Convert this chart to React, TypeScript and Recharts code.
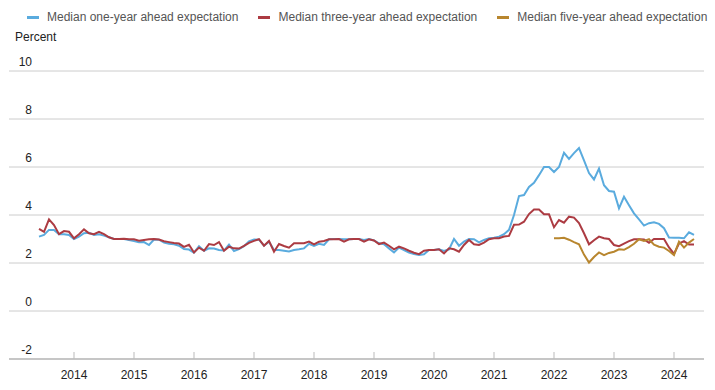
import React from "react";
import { CartesianGrid, Legend, Line, LineChart, XAxis, YAxis } from "recharts";

// monthly survey medians, June 2013 .. May 2024
const START_YEAR = 2013;
const START_MONTH = 6;

const oneYear = [
  3.1, 3.17, 3.38, 3.38, 3.2, 3.2, 3.17,
  3.0, 3.1, 3.24, 3.26, 3.17, 3.2, 3.14, 3.07, 3.0, 3.0, 3.0, 2.96,
  2.92, 2.86, 2.87, 2.75, 2.98, 2.97, 2.85, 2.8, 2.78, 2.72, 2.58, 2.56,
  2.43, 2.7, 2.51, 2.61, 2.6, 2.54, 2.52, 2.77, 2.5, 2.58, 2.7, 2.9,
  2.98, 2.97, 2.72, 2.89, 2.54, 2.54, 2.51, 2.48, 2.54, 2.57, 2.61, 2.8,
  2.71, 2.8, 2.75, 2.99, 3.0, 3.0, 2.99, 2.99, 3.0, 3.0, 2.96, 3.0,
  2.94, 2.82, 2.78, 2.61, 2.44, 2.64, 2.54, 2.43, 2.37, 2.33, 2.36, 2.54,
  2.54, 2.57, 2.5, 2.57, 3.0, 2.72, 2.89, 3.0, 2.99, 2.86, 2.96, 3.03,
  3.05, 3.1, 3.2, 3.38, 4.0, 4.79, 4.83, 5.17, 5.34, 5.66, 6.0, 6.0,
  5.79, 6.0, 6.59, 6.34, 6.58, 6.79, 6.28, 5.75, 5.48, 5.93, 5.24, 5.0,
  4.97, 4.28, 4.76, 4.41, 4.07, 3.82, 3.56, 3.66, 3.7, 3.63, 3.45, 3.06,
  3.05, 3.05, 3.03, 3.28, 3.17,
];

const threeYear = [
  3.42, 3.3, 3.82, 3.58, 3.2, 3.33, 3.3,
  3.03, 3.2, 3.4, 3.24, 3.2, 3.3, 3.2, 3.07, 3.0, 3.0, 3.01, 2.99,
  2.99, 2.93, 2.96, 2.99, 3.0, 2.98, 2.91, 2.87, 2.83, 2.81, 2.67, 2.76,
  2.44, 2.64, 2.51, 2.79, 2.75, 2.87, 2.51, 2.68, 2.61, 2.6, 2.71, 2.84,
  2.92, 2.99, 2.72, 2.92, 2.47, 2.79, 2.71, 2.64, 2.82, 2.82, 2.82, 2.89,
  2.78, 2.89, 2.92, 2.99, 2.99, 3.0, 2.89, 2.99, 3.0, 3.0, 2.89, 2.99,
  2.94, 2.79, 2.85, 2.72, 2.57, 2.68, 2.61, 2.51, 2.43, 2.37, 2.51, 2.54,
  2.54, 2.57, 2.4, 2.61, 2.57, 2.47, 2.75, 2.96, 2.78, 2.75, 2.85, 2.99,
  3.03, 3.03, 3.1, 3.13, 3.59, 3.6, 3.72, 4.04, 4.23, 4.23, 4.03, 4.03,
  3.49, 3.79, 3.68, 3.93, 3.89, 3.66, 3.24, 2.78, 2.95, 3.1, 3.03, 3.0,
  2.75, 2.7, 2.81, 2.91, 2.99, 2.99, 2.98, 2.84, 3.0, 3.0, 3.0, 2.65,
  2.38, 2.81, 2.91, 2.77, 2.77,
];

// five-year series begins January 2022
const FIVE_START_YEAR = 2022;
const fiveYear = [
  3.03, 3.03, 3.05, 2.97, 2.87, 2.78, 2.35, 2.02, 2.25, 2.44, 2.33, 2.42,
  2.47, 2.57, 2.55, 2.66, 2.8, 2.99, 2.92, 2.99, 2.76, 2.68, 2.64, 2.5,
  2.33, 2.89, 2.64, 2.85, 3.0,
];

const yearTicks = [2014, 2015, 2016, 2017, 2018, 2019, 2020, 2021, 2022, 2023, 2024];
const percentTicks = [-2, 0, 2, 4, 6, 8, 10];

const series = [
  { key: "one", name: "Median one-year ahead expectation", color: "#5aabde" },
  { key: "three", name: "Median three-year ahead expectation", color: "#ac3b42" },
  { key: "five", name: "Median five-year ahead expectation", color: "#b8862e" },
];

const monthIndex = (year: number) => (year - START_YEAR) * 12 - (START_MONTH - 1);
const fiveStart = monthIndex(FIVE_START_YEAR);

const data = oneYear.map((v, i) => ({
  k: i,
  one: v,
  three: threeYear[i],
  five: i >= fiveStart ? fiveYear[i - fiveStart] : null,
}));

const FONT = "'Liberation Sans', Arial, sans-serif";

const LegendContent = () => (
  <div style={{ height: 50, width: 715, fontFamily: FONT, fontSize: 12, position: "relative" }}>
    <div style={{ display: "flex", paddingLeft: 27, paddingTop: 10, whiteSpace: "nowrap" }}>
      {series.map((s) => (
        <div
          key={s.key}
          style={{ display: "flex", alignItems: "center", marginRight: 20, color: "#555", flexShrink: 0 }}
        >
          <span style={{ display: "inline-block", width: 12, height: 3, background: s.color, marginRight: 8 }} />
          {s.name}
        </div>
      ))}
    </div>
    <div style={{ position: "absolute", left: 15, top: 30, color: "#222" }}>Percent</div>
  </div>
);

const YTick = ({ y, payload }: any) => (
  <text x={32} y={y - 5} textAnchor="end" fontSize={12} fontFamily={FONT} fill="#222">
    {payload.value}
  </text>
);

const XTick = ({ x, y, payload }: any) => (
  <g>
    <line x1={x} x2={x} y1={y - 7} y2={y} stroke="#bbb" />
    <text x={x} y={y + 20} textAnchor="middle" fontSize={12} fontFamily={FONT} fill="#222">
      {START_YEAR + Math.floor((payload.value + START_MONTH - 1) / 12)}
    </text>
  </g>
);

export default function App() {
  return (
    <div style={{ position: "absolute", left: 0, top: 0 }}>
      <LineChart
        width={715}
        height={390}
        data={data}
        margin={{ top: 21, right: 11, bottom: 1, left: 0 }}
      >
        <Legend verticalAlign="top" content={<LegendContent />} wrapperStyle={{ top: 0, left: 0, width: 715 }} />
        <CartesianGrid vertical={false} stroke="#ccc" />
        <XAxis
          dataKey="k"
          type="number"
          domain={[-6, 133]}
          ticks={yearTicks.map(monthIndex)}
          height={30}
          tickSize={0}
          tickMargin={0}
          tick={<XTick />}
          axisLine={{ stroke: "#bbb", strokeWidth: 1.5 }}
          interval={0}
        />
        <YAxis
          type="number"
          domain={[-2, 10]}
          ticks={percentTicks}
          width={9}
          axisLine={false}
          tickLine={false}
          tick={<YTick />}
          interval={0}
        />
        {series.map((s) => (
          <Line
            key={s.key}
            dataKey={s.key}
            name={s.name}
            type="linear"
            stroke={s.color}
            strokeWidth={2}
            dot={false}
            isAnimationActive={false}
          />
        ))}
      </LineChart>
    </div>
  );
}
